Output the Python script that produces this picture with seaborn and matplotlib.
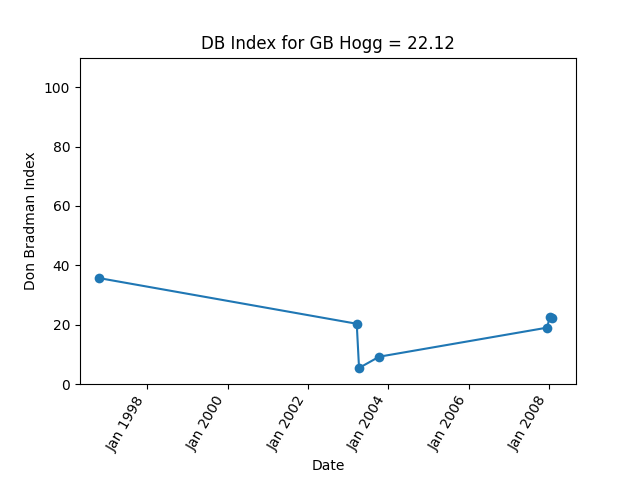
import matplotlib
matplotlib.use("Agg")
import matplotlib.pyplot as plt
import matplotlib.dates as mdates
import seaborn as sns
import pandas as pd

dates = ["1996-10-20", "2003-03-20", "2003-04-10", "2003-10-10", "2007-12-15", "2008-01-05", "2008-01-25"]
values = [35.7, 20.3, 5.4, 9.2, 19.0, 22.6, 22.12]

df = pd.DataFrame({"Date": pd.to_datetime(dates), "DBI": values})

fig, ax = plt.subplots(figsize=(6.4, 4.8), dpi=100)
sns.lineplot(data=df, x="Date", y="DBI", marker="o", markersize=7, markeredgewidth=0, ax=ax, color="#1f77b4")
ax.set_ylim(0, 110)
ax.set_xlim(pd.Timestamp("1996-05-01"), pd.Timestamp("2008-09-01"))
ax.xaxis.set_major_locator(mdates.MonthLocator(bymonth=1, interval=24))
ax.xaxis.set_major_locator(mdates.YearLocator(2, month=1, day=1))
ax.xaxis.set_major_formatter(mdates.DateFormatter("%b %Y"))
plt.setp(ax.get_xticklabels(), rotation=60, ha="right")
ax.set_xlabel("Date")
ax.set_ylabel("Don Bradman Index")
ax.set_title("DB Index for GB Hogg = 22.12")
fig.subplots_adjust(left=0.125, right=0.9, top=0.88, bottom=0.2)
fig.savefig("out.png")
